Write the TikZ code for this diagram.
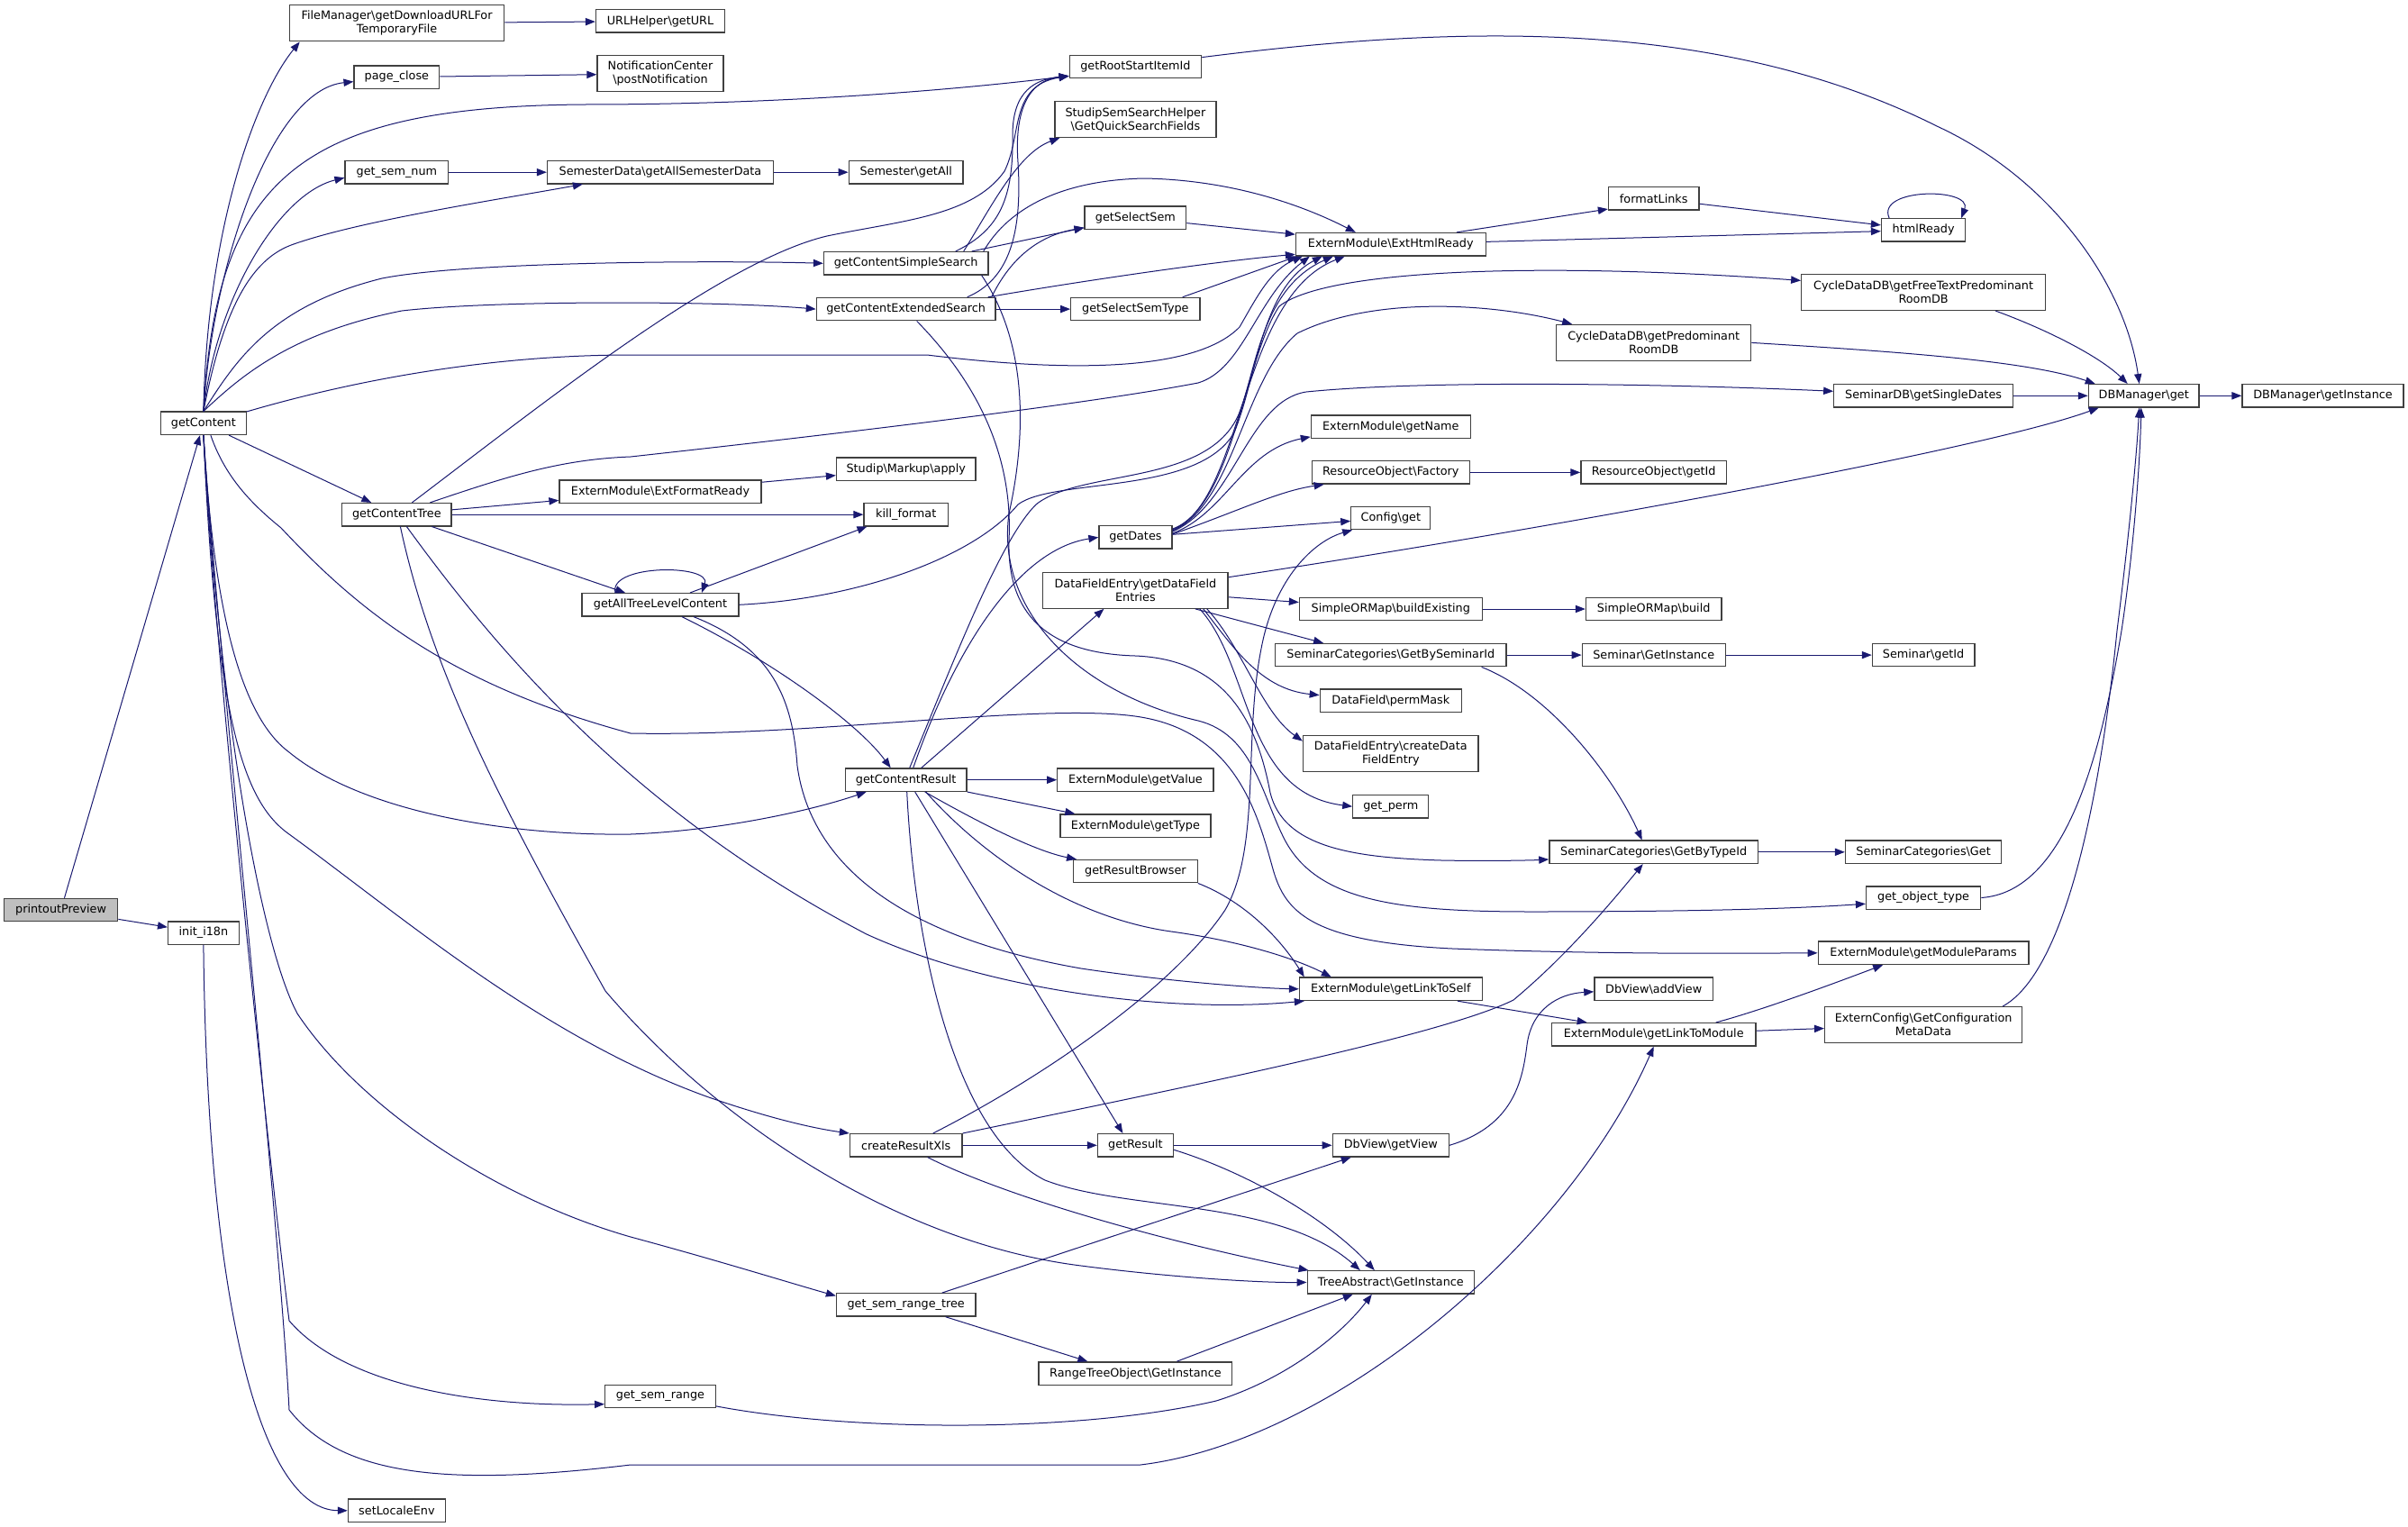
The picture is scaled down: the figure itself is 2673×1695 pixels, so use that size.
\documentclass[tikz,border=0pt]{standalone}
\usepackage{fontspec}
\setmainfont{DejaVu Sans}
\usetikzlibrary{arrows.meta,calc}
\definecolor{callblue}{HTML}{191970}
\definecolor{boxline}{HTML}{404040}
\definecolor{rootgray}{HTML}{BFBFBF}
\newcommand{\ns}{\textbackslash}
\tikzset{
  fn/.style={draw=boxline, line width=1pt, fill=white, inner sep=0pt, minimum height=19pt,
    font=\fontsize{9.6}{11.2}\selectfont, align=center},
  fntwo/.style={fn, minimum height=30pt},
  bw/.style={minimum width=#1*0.75pt},
  rootfn/.style={fn, fill=rootgray},
  call/.style={draw=callblue, line width=0.75pt, -{Triangle[length=8.2pt,width=6.2pt]}}
}
\begin{document}
\begin{tikzpicture}[x=0.75pt,y=-0.75pt]
			\fill[white] (0,0) rectangle (2673,1695);
			\useasboundingbox (0,0) rectangle (2673,1695);
			
			%%first and second column%%
			\node[rootfn,bw=126.3] (pp) at (67.6,1010.1) {printoutPreview};
			\node[fn,bw=94.6] (gc) at (225.9,469.8) {getContent};
			\node[fn,bw=78.6] (ii) at (225.9,1035.6) {init\_i18n};
			
			%%third column%%
			\node[fntwo,bw=238.4] (fm) at (440.6,25.8) {FileManager\ns{}getDownloadURLFor\\TemporaryFile};
			\node[fn,bw=94.7] (pc) at (440.4,85.6) {page\_close};
			\node[fn,bw=114.7] (gsn) at (440.4,191.2) {get\_sem\_num};
			\node[fn,bw=121.5] (gct) at (440.4,571.2) {getContentTree};
			\node[fn,bw=108] (sle) at (440.4,1676.8) {setLocaleEnv};
			
			%%fourth column%%
			\node[fn,bw=143] (url) at (733,23.5) {URLHelper\ns{}getURL};
			\node[fntwo,bw=140] (nc) at (733,81.8) {NotificationCenter\\\ns{}postNotification};
			\node[fn,bw=251] (sd) at (733,191.2) {SemesterData\ns{}getAllSemesterData};
			\node[fn,bw=224] (efr) at (733,545.6) {ExternModule\ns{}ExtFormatReady};
			\node[fn,bw=173.7] (atl) at (733,671.3) {getAllTreeLevelContent};
			\node[fn,bw=122.7] (gsr) at (733,1549.9) {get\_sem\_range};
			
			%%fifth column%%
			\node[fn,bw=126.8] (sga) at (1005.7,191.2) {Semester\ns{}getAll};
			\node[fn,bw=182.5] (css) at (1005.7,292.3) {getContentSimpleSearch};
			\node[fn,bw=198.7] (ces) at (1005.7,343.1) {getContentExtendedSearch};
			\node[fn,bw=154.4] (map) at (1005.7,520.5) {Studip\ns{}Markup\ns{}apply};
			\node[fn,bw=93.3] (kf) at (1005.7,571.2) {kill\_format};
			\node[fn,bw=134.8] (cr) at (1005.7,865.7) {getContentResult};
			\node[fn,bw=124.5] (crx) at (1005.7,1271.3) {createResultXls};
			\node[fn,bw=154.4] (srt) at (1005.7,1448.4) {get\_sem\_range\_tree};
			
			%%sixth column%%
			\node[fn,bw=146.4] (rsi) at (1260.4,74) {getRootStartItemId};
			\node[fntwo,bw=179] (qsf) at (1260.4,132.5) {StudipSemSearchHelper\\\ns{}GetQuickSearchFields};
			\node[fn,bw=112.5] (gss) at (1260.4,241.7) {getSelectSem};
			\node[fn,bw=143.2] (gst) at (1260.4,343.1) {getSelectSemType};
			\node[fn,bw=80.9] (gd) at (1260.4,596.4) {getDates};
			\node[fntwo,bw=205.4] (dfe) at (1260.4,655.2) {DataFieldEntry\ns{}getDataField\\Entries};
			\node[fn,bw=173.2] (gv) at (1260.4,865.7) {ExternModule\ns{}getValue};
			\node[fn,bw=167] (gt) at (1260.4,916.6) {ExternModule\ns{}getType};
			\node[fn,bw=137.5] (grb) at (1260.4,967.1) {getResultBrowser};
			\node[fn,bw=83.9] (gr) at (1260.4,1271.3) {getResult};
			\node[fn,bw=214.8] (rto) at (1260.4,1524.5) {RangeTreeObject\ns{}GetInstance};
			
			%%seventh column%%
			\node[fn,bw=210.7] (ehr) at (1543.8,271.2) {ExternModule\ns{}ExtHtmlReady};
			\node[fn,bw=176.8] (gn) at (1543.8,473.5) {ExternModule\ns{}getName};
			\node[fn,bw=175] (rof) at (1543.8,524.4) {ResourceObject\ns{}Factory};
			\node[fn,bw=88] (cfg) at (1543.8,575) {Config\ns{}get};
			\node[fn,bw=202.7] (sbe) at (1543.8,676) {SimpleORMap\ns{}buildExisting};
			\node[fn,bw=256.3] (gbs) at (1543.8,727.1) {SeminarCategories\ns{}GetBySeminarId};
			\node[fn,bw=157.1] (pm) at (1543.8,777.6) {DataField\ns{}permMask};
			\node[fntwo,bw=194.6] (cdf) at (1543.8,836.6) {DataFieldEntry\ns{}createData\\FieldEntry};
			\node[fn,bw=84] (gp) at (1543.8,895.2) {get\_perm};
			\node[fn,bw=202.7] (lts) at (1543.8,1097.8) {ExternModule\ns{}getLinkToSelf};
			\node[fn,bw=129] (dgv) at (1543.8,1271.3) {DbView\ns{}getView};
			\node[fn,bw=185.3] (tai) at (1543.8,1423.4) {TreeAbstract\ns{}GetInstance};
			
			%%eighth column%%
			\node[fn,bw=100.5] (fl) at (1835.7,220.3) {formatLinks};
			\node[fntwo,bw=216] (cpr) at (1835.7,380.4) {CycleDataDB\ns{}getPredominant\\RoomDB};
			\node[fn,bw=161.6] (rog) at (1835.7,524.4) {ResourceObject\ns{}getId};
			\node[fn,bw=150.5] (sob) at (1835.7,676) {SimpleORMap\ns{}build};
			\node[fn,bw=158.9] (sgi) at (1835.7,727.1) {Seminar\ns{}GetInstance};
			\node[fn,bw=231.7] (gbt) at (1835.7,945.8) {SeminarCategories\ns{}GetByTypeId};
			\node[fn,bw=131.7] (dav) at (1835.7,1097.8) {DbView\ns{}addView};
			\node[fn,bw=226.8] (ltm) at (1835.7,1148.3) {ExternModule\ns{}getLinkToModule};
			
			%%ninth column and DBManager%%
			\node[fn,bw=93.2] (hr) at (2135.1,255.4) {htmlReady};
			\node[fntwo,bw=270.7] (cft) at (2135.1,324.4) {CycleDataDB\ns{}getFreeTextPredominant\\RoomDB};
			\node[fn,bw=198.7] (sds) at (2135.1,439.3) {SeminarDB\ns{}getSingleDates};
			\node[fn,bw=113.5] (sgid) at (2135.1,727.1) {Seminar\ns{}getId};
			\node[fn,bw=173.3] (scg) at (2135.1,945.8) {SeminarCategories\ns{}Get};
			\node[fn,bw=127.2] (got) at (2135.1,996.5) {get\_object\_type};
			\node[fn,bw=233.8] (gmp) at (2135.1,1057.8) {ExternModule\ns{}getModuleParams};
			\node[fntwo,bw=219] (ecm) at (2135.1,1137.6) {ExternConfig\ns{}GetConfiguration\\MetaData};
			\node[fn,bw=122.7] (dbg) at (2379.7,439.3) {DBManager\ns{}get};
			\node[fn,bw=179] (dbi) at (2578.5,439.3) {DBManager\ns{}getInstance};
			
			%%calls of printoutPreview%%
			\draw[call] (pp) -- (gc);
			\draw[call] (pp) -- (ii);
			\draw[call] (ii.south) .. controls (230,1450) and (290,1676) .. (sle.west);
			
			%%calls of getContent%%
			\draw[call] (gc.north) .. controls (230,250) and (285,105) .. ($(fm.south west)+(12,0)$);
			\draw[call] (gc.north) .. controls (235,300) and (300,100) .. (pc.186);
			\draw[call] (gc.north) .. controls (240,200) and (330,118) .. (650,116) .. controls (900,116) and (1100,95) .. (rsi.188);
			\draw[call] (gc.north) .. controls (240,330) and (310,215) .. (gsn.186);
			\draw[call] (gc.north) .. controls (250,330) and (285,285) .. (326,271) .. controls (400,245) and (550,222) .. ($(sd.south west)+(40,0)$);
			\draw[call] (gc.north) .. controls (262,400) and (300,340) .. (424,309) .. controls (520,290) and (800,289) .. (css.west);
			\draw[call] (gc.north) .. controls (265,420) and (320,370) .. (446,345) .. controls (550,333) and (800,334) .. (ces.west);
			\draw[call] (gc.15) .. controls (400,420) and (550,394) .. (700,394) -- (1029,394) .. controls (1200,415) and (1330,410) .. (1376,363) .. controls (1395,330) and (1410,300) .. ($(ehr.south west)+(8,0)$);
			\draw[call] (gc) -- (gct);
			\draw[call] ($(gc.south)+(8,0)$) .. controls (250,530) and (280,560) .. (312,586) .. controls (400,680) and (500,760) .. (700,814) .. controls (900,818) and (1150,780) .. (1260,795) .. controls (1370,810) and (1395,900) .. (1412,961) .. controls (1425,1010) and (1450,1045) .. (1612,1053) .. controls (1800,1060) and (1950,1058) .. (gmp.west);
			\draw[call] (gc.south) .. controls (236,650) and (260,790) .. (321,835) .. controls (400,900) and (560,928) .. (700,926) .. controls (800,922) and (900,900) .. ($(cr.south west)+(24,0)$);
			\draw[call] (gc.south) .. controls (240,800) and (270,890) .. (321,926) .. controls (450,1020) and (600,1150) .. (784,1217) .. controls (850,1240) and (900,1252) .. (crx.north west);
			\draw[call] (gc.south) .. controls (245,800) and (290,1050) .. (330,1125) .. controls (400,1230) and (550,1330) .. (700,1373) .. controls (800,1400) and (880,1425) .. ($(srt.west)+(0,-10)$);
			\draw[call] (gc.south) .. controls (236,700) and (300,1300) .. (321,1466) .. controls (380,1535) and (520,1562) .. (gsr.188);
			\draw[call] (gc.south) .. controls (240,700) and (310,1350) .. (321,1565) .. controls (380,1640) and (500,1650) .. (700,1626) -- (1266,1626) .. controls (1480,1600) and (1740,1380) .. (ltm.south);
			
			%%third column calls%%
			\draw[call] (fm) -- (url);
			\draw[call] (pc) -- (nc);
			\draw[call] (gsn) -- (sd);
			\draw[call] (sd) -- (sga);
			\draw[call] (gct) -- (efr);
			\draw[call] (gct) -- (kf);
			\draw[call] (gct) -- (atl);
			\draw[call] ($(gct.north)+(17,0)$) .. controls (600,450) and (800,290) .. (918,262) .. controls (1000,245) and (1080,240) .. (1115,190) .. controls (1135,150) and (1120,95) .. (rsi.188);
			\draw[call] ($(gct.north)+(37,0)$) .. controls (560,530) and (620,510) .. (700,507) .. controls (900,485) and (1200,450) .. (1330,425) .. controls (1380,410) and (1395,330) .. ($(ehr.south west)+(16,0)$);
			\draw[call] ($(gct.south)+(4,0)$) .. controls (480,750) and (560,900) .. (672,1100) .. controls (800,1250) and (1000,1380) .. (1200,1405) .. controls (1300,1418) and (1400,1424) .. (tai.west);
			\draw[call] ($(gct.south)+(11,0)$) .. controls (550,720) and (700,900) .. (962,1037) .. controls (1100,1100) and (1300,1125) .. ($(lts.south west)+(6,0)$);
			\draw[call] (efr) -- (map);
			
			%%getAllTreeLevelContent%%
			\draw[call] ($(atl.north)+(-50,0)$) .. controls (675,626) and (790,626) .. ($(atl.north)+(46,0)$);
			\draw[call] ($(atl.north)+(33,0)$) -- ($(kf.south west)+(4,0)$);
			\draw[call] (atl.east) .. controls (950,665) and (1080,620) .. (1130,560) .. controls (1170,530) and (1330,550) .. (1370,480) .. controls (1395,420) and (1400,320) .. ($(ehr.south west)+(30,0)$);
			\draw[call] ($(atl.south)+(24,0)$) .. controls (850,730) and (950,800) .. ($(cr.north)+(-17,0)$);
			\draw[call] ($(atl.south)+(37,0)$) .. controls (860,720) and (880,780) .. (885,850) .. controls (900,960) and (1000,1040) .. (1200,1075) .. controls (1300,1090) and (1400,1097) .. (lts.west);
			
			%%search forms%%
			\draw[call] ($(css.north)+(55,0)$) .. controls (1110,255) and (1125,220) .. (1124,150) .. controls (1124,100) and (1150,88) .. (rsi.188);
			\draw[call] ($(css.north)+(64,0)$) .. controls (1100,230) and (1130,170) .. ($(qsf.south west)+(6,0)$);
			\draw[call] ($(css.north)+(73,0)$) -- (gss.191);
			\draw[call] ($(css.north)+(86,0)$) .. controls (1120,230) and (1180,200) .. (1270,198) .. controls (1380,200) and (1460,235) .. ($(ehr.north)+(-39,0)$);
			\draw[call] ($(css.south east)+(-8,0)$) .. controls (1140,380) and (1140,480) .. (1120,570) .. controls (1105,680) and (1200,770) .. (1330,800) .. controls (1390,815) and (1400,880) .. (1425,930) .. controls (1460,1000) and (1550,1012) .. (1700,1012) .. controls (1900,1012) and (2000,1008) .. (got.186);
			\draw[call] ($(ces.north)+(68,0)$) .. controls (1120,310) and (1135,260) .. (1130,180) .. controls (1125,110) and (1150,88) .. (rsi.188);
			\draw[call] ($(ces.north)+(95,0)$) .. controls (1120,290) and (1150,262) .. (gss.191);
			\draw[call] ($(ces.north)+(91,0)$) .. controls (1200,312) and (1350,290) .. (ehr.186);
			\draw[call] (ces) -- (gst);
			\draw[call] ($(ces.south)+(12,0)$) .. controls (1080,420) and (1125,500) .. (1120,600) .. controls (1118,680) and (1160,725) .. (1260,728) .. controls (1360,732) and (1395,800) .. (1410,880) .. controls (1425,940) and (1500,952) .. (1600,955) .. controls (1650,956) and (1700,955) .. (gbt.184);
			\draw[call] (gss) -- (ehr);
			\draw[call] ($(gst.north east)+(-20,0)$) -- ($(ehr.south west)+(2,0)$);
			
			%%html%%
			\draw[call] ($(ehr.north)+(73,0)$) -- (fl.193);
			\draw[call] (ehr) -- (hr);
			\draw[call] (fl) -- (hr);
			\draw[call] ($(hr.north)+(-38,0)$) .. controls (2082,208) and (2190,208) .. ($(hr.north)+(42,0)$);
			
			%%DBManager%%
			\draw[call] (rsi.8) .. controls (1600,30) and (1900,15) .. (2150,140) .. controls (2280,200) and (2360,320) .. ($(dbg.north)+(-5,0)$);
			\draw[call] ($(cft.south)+(80,0)$) .. controls (2270,365) and (2330,395) .. ($(dbg.north)+(-18,0)$);
			\draw[call] (cpr.east) .. controls (2100,390) and (2250,400) .. ($(dbg.north west)+(8,0)$);
			\draw[call] (sds) -- (dbg);
			\draw[call] (dfe.8) .. controls (1700,590) and (2200,500) .. ($(dbg.south west)+(12,0)$);
			\draw[call] (got.east) .. controls (2290,990) and (2330,850) .. (2355,700) .. controls (2370,600) and (2376,500) .. ($(dbg.south)+(-3,0)$);
			\draw[call] ($(ecm.north east)+(-22,0)$) .. controls (2290,1080) and (2330,900) .. (2350,700) .. controls (2365,580) and (2372,500) .. ($(dbg.south)+(-5,0)$);
			\draw[call] (dbg) -- (dbi);
			
			%%getContentResult%%
			\draw[call] ($(cr.north)+(8,0)$) .. controls (1060,720) and (1130,610) .. (gd.west);
			\draw[call] ($(cr.north)+(4,0)$) .. controls (1060,730) and (1110,600) .. (1150,560) .. controls (1200,520) and (1340,540) .. (1375,460) .. controls (1395,410) and (1400,320) .. ($(ehr.south west)+(42,0)$);
			\draw[call] ($(cr.north)+(17,0)$) -- ($(dfe.south)+(-35,0)$);
			\draw[call] (cr) -- (gv);
			\draw[call] (cr.south east) -- ($(gt.north west)+(17,0)$);
			\draw[call] ($(cr.south)+(21,0)$) .. controls (1090,915) and (1150,945) .. ($(grb.north west)+(4,0)$);
			\draw[call] ($(cr.south)+(22,0)$) .. controls (1100,960) and (1200,1020) .. (1300,1034) .. controls (1380,1045) and (1440,1065) .. ($(lts.north west)+(36,0)$);
			\draw[call] ($(cr.south)+(10,0)$) -- ($(gr.north)+(-14,0)$);
			\draw[call] ($(cr.south)+(1,0)$) .. controls (1015,1050) and (1060,1260) .. (1160,1310) .. controls (1250,1345) and (1420,1330) .. ($(tai.north)+(-34,0)$);
			
			%%getDates%%
			\draw[call] ($(gd.north east)+(0,4)$) .. controls (1380,560) and (1375,330) .. ($(ehr.south west)+(55,0)$);
			\draw[call] ($(gd.north east)+(0,5)$) .. controls (1370,560) and (1380,400) .. (1420,340) .. controls (1470,300) and (1700,290) .. ($(cft.west)+(0,-13)$);
			\draw[call] ($(gd.north east)+(0,6)$) .. controls (1370,560) and (1380,420) .. (1440,370) .. controls (1520,330) and (1650,335) .. ($(cpr.north west)+(18,0)$);
			\draw[call] ($(gd.north east)+(0,7)$) .. controls (1370,560) and (1385,445) .. (1450,435) .. controls (1600,420) and (1900,428) .. ($(sds.west)+(0,-5)$);
			\draw[call] ($(gd.north east)+(0,9)$) .. controls (1360,570) and (1380,500) .. ($(gn.south west)+(0,-2)$);
			\draw[call] ($(gd.north east)+(0,10)$) .. controls (1380,565) and (1420,545) .. ($(rof.south west)+(14,0)$);
			\draw[call] (gd) -- (cfg);
			\draw[call] (rof) -- (rog);
			
			%%data fields%%
			\draw[call] (dfe) -- (sbe);
			\draw[call] ($(dfe.south east)+(-37,0)$) -- ($(gbs.north west)+(54,0)$);
			\draw[call] ($(dfe.south east)+(-28,0)$) .. controls (1370,720) and (1400,765) .. ($(pm.west)+(0,-6)$);
			\draw[call] ($(dfe.south east)+(-24,0)$) .. controls (1380,720) and (1400,790) .. ($(cdf.west)+(0,-14)$);
			\draw[call] ($(dfe.south east)+(-32,0)$) .. controls (1390,740) and (1380,880) .. (gp.west);
			\draw[call] (sbe) -- (sob);
			\draw[call] (gbs) -- (sgi);
			\draw[call] ($(gbs.south east)+(-28,0)$) .. controls (1720,770) and (1790,860) .. ($(gbt.north)+(-13,0)$);
			\draw[call] (sgi) -- (sgid);
			\draw[call] (gbt) -- (scg);
			
			%%links%%
			\draw[call] (grb.south east) .. controls (1380,1000) and (1420,1040) .. ($(lts.north west)+(6,0)$);
			\draw[call] ($(lts.south east)+(-28,0)$) -- ($(ltm.north west)+(40,0)$);
			\draw[call] ($(ltm.north east)+(-45,0)$) .. controls (1960,1120) and (2040,1090) .. ($(gmp.south)+(-45,0)$);
			\draw[call] (ltm) -- (ecm);
			
			%%result export and ranges%%
			\draw[call] (crx) -- (gr);
			\draw[call] ($(crx.north)+(30,0)$) .. controls (1150,1200) and (1300,1100) .. (1360,1010) .. controls (1400,940) and (1380,820) .. (1400,720) .. controls (1415,640) and (1460,600) .. ($(cfg.south west)+(2,0)$);
			\draw[call] (crx.north east) .. controls (1300,1210) and (1600,1150) .. (1680,1110) .. controls (1740,1060) and (1790,1000) .. ($(gbt.south)+(-12,0)$);
			\draw[call] ($(crx.south)+(24,0)$) .. controls (1120,1330) and (1300,1380) .. ($(tai.north west)+(2,0)$);
			\draw[call] (gr) -- (dgv);
			\draw[call] ($(gr.east)+(0,5)$) .. controls (1380,1300) and (1470,1350) .. ($(tai.north)+(-18,0)$);
			\draw[call] (dgv.east) .. controls (1680,1250) and (1690,1200) .. (1695,1160) .. controls (1700,1120) and (1730,1103) .. ($(dav.west)+(0,3)$);
			\draw[call] ($(srt.north)+(40,0)$) -- ($(dgv.south west)+(21,0)$);
			\draw[call] ($(srt.south)+(44,0)$) -- ($(rto.north west)+(55,0)$);
			\draw[call] ($(rto.north)+(46,0)$) -- ($(tai.south)+(-42,0)$);
			\draw[call] ($(gsr.east)+(0,11)$) .. controls (950,1590) and (1200,1590) .. (1350,1555) .. controls (1430,1530) and (1490,1480) .. ($(tai.south)+(-21,0)$);
		\end{tikzpicture}
\end{document}
